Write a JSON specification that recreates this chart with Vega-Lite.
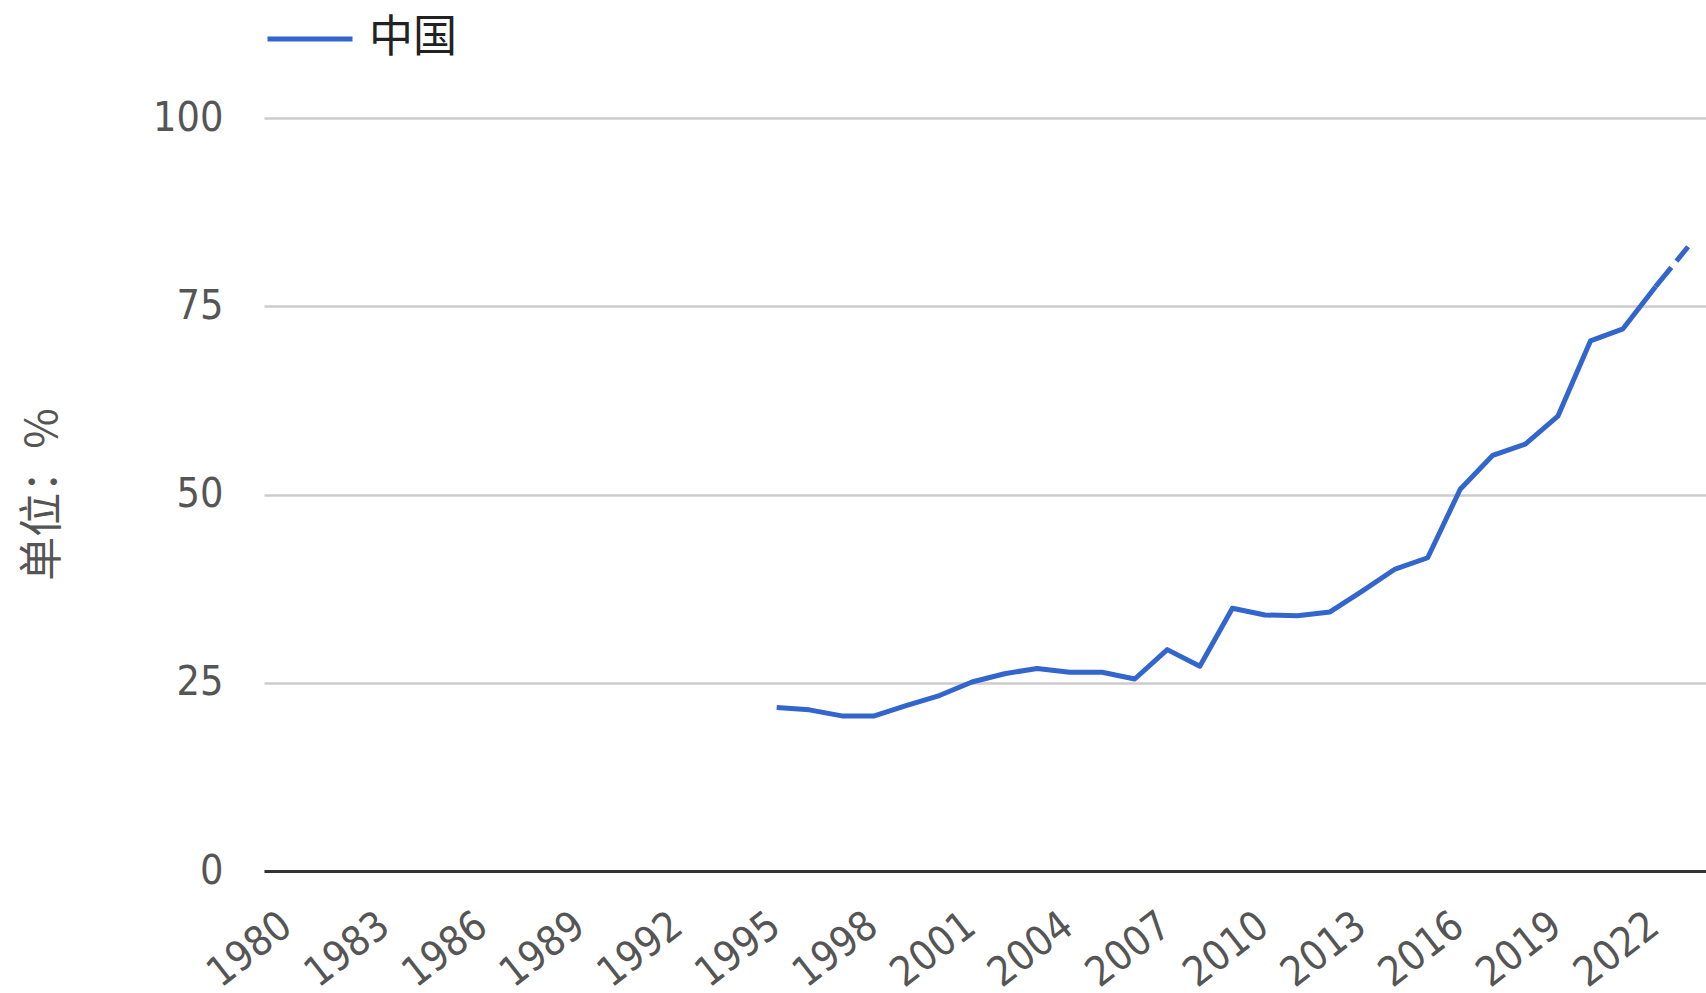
{
  "$schema": "https://vega.github.io/schema/vega-lite/v6.json",
  "autosize": {"type": "none"},
  "padding": {"left": 264, "top": 118, "right": 0, "bottom": 122},
  "width": 1442,
  "height": 753,
  "background": "white",
  "config": {"view": {"stroke": null}},
  "data": {"values": [
    {"year": 1995, "value": 21.7, "country": "中国"},
    {"year": 1996, "value": 21.4, "country": "中国"},
    {"year": 1997, "value": 20.6, "country": "中国"},
    {"year": 1998, "value": 20.6, "country": "中国"},
    {"year": 1999, "value": 22.0, "country": "中国"},
    {"year": 2000, "value": 23.3, "country": "中国"},
    {"year": 2001, "value": 25.1, "country": "中国"},
    {"year": 2002, "value": 26.2, "country": "中国"},
    {"year": 2003, "value": 26.9, "country": "中国"},
    {"year": 2004, "value": 26.4, "country": "中国"},
    {"year": 2005, "value": 26.4, "country": "中国"},
    {"year": 2006, "value": 25.5, "country": "中国"},
    {"year": 2007, "value": 29.4, "country": "中国"},
    {"year": 2008, "value": 27.2, "country": "中国"},
    {"year": 2009, "value": 34.9, "country": "中国"},
    {"year": 2010, "value": 34.0, "country": "中国"},
    {"year": 2011, "value": 33.9, "country": "中国"},
    {"year": 2012, "value": 34.4, "country": "中国"},
    {"year": 2013, "value": 37.2, "country": "中国"},
    {"year": 2014, "value": 40.1, "country": "中国"},
    {"year": 2015, "value": 41.6, "country": "中国"},
    {"year": 2016, "value": 50.7, "country": "中国"},
    {"year": 2017, "value": 55.2, "country": "中国"},
    {"year": 2018, "value": 56.7, "country": "中国"},
    {"year": 2019, "value": 60.4, "country": "中国"},
    {"year": 2020, "value": 70.4, "country": "中国"},
    {"year": 2021, "value": 72.0, "country": "中国"},
    {"year": 2022, "value": 77.6, "country": "中国"},
    {"year": 2023, "value": 82.9, "country": "中国"}
  ]},
  "encoding": {
    "x": {
      "field": "year", "type": "quantitative",
      "scale": {"domain": [1979.25, 2023.55], "nice": false, "zero": false},
      "axis": {
        "title": null,
        "values": [1980, 1983, 1986, 1989, 1992, 1995, 1998, 2001, 2004, 2007, 2010, 2013, 2016, 2019, 2022],
        "format": "d",
        "grid": false,
        "ticks": false,
        "domain": true,
        "domainColor": "#333333",
        "domainWidth": 3,
        "labelAngle": -38,
        "labelAlign": "right",
        "labelBaseline": "top",
        "labelPadding": 34,
        "labelOffset": -14,
        "labelFont": "DejaVu Sans Condensed, Liberation Sans, sans-serif",
        "labelFontSize": 41,
        "labelColor": "#555555",
        "labelOverlap": false,
        "labelFlush": false,
        "labelBound": false,
        "zindex": 1
      }
    },
    "y": {
      "field": "value", "type": "quantitative",
      "scale": {"domain": [0, 100], "nice": false},
      "axis": {
        "title": "单位：%",
        "titleFont": "Noto Sans CJK SC",
        "titleFontSize": 44,
        "titleFontWeight": "normal",
        "titleColor": "#555555",
        "titleAngle": -90,
        "titleX": -221,
        "titleY": 376,
        "titleAlign": "center",
        "titleBaseline": "middle",
        "values": [0, 25, 50, 75, 100],
        "grid": true,
        "gridColor": "#cccccc",
        "gridWidth": 2.5,
        "domain": false,
        "ticks": false,
        "labelPadding": 41,
        "labelFont": "DejaVu Sans Condensed, Liberation Sans, sans-serif",
        "labelFontSize": 41,
        "labelColor": "#555555",
        "zindex": 0
      }
    },
    "color": {
      "field": "country", "type": "nominal",
      "scale": {"range": ["#3366cc"]},
      "legend": {
        "title": null,
        "orient": "none",
        "legendX": 1,
        "legendY": -124,
        "padding": 0,
        "symbolType": "stroke",
        "symbolSize": 7225,
        "symbolStrokeWidth": 5,
        "labelOffset": 14,
        "labelFont": "Noto Sans CJK SC",
        "labelFontSize": 44,
        "labelColor": "#222222"
      }
    }
  },
  "layer": [
    {
      "transform": [{"filter": "datum.year <= 2022"}],
      "mark": {"type": "line", "strokeWidth": 5, "strokeJoin": "round", "strokeCap": "butt"}
    },
    {
      "transform": [{"filter": "datum.year >= 2022"}],
      "mark": {"type": "line", "strokeWidth": 5, "strokeDash": [25, 8, 40], "strokeCap": "butt"}
    }
  ]
}
